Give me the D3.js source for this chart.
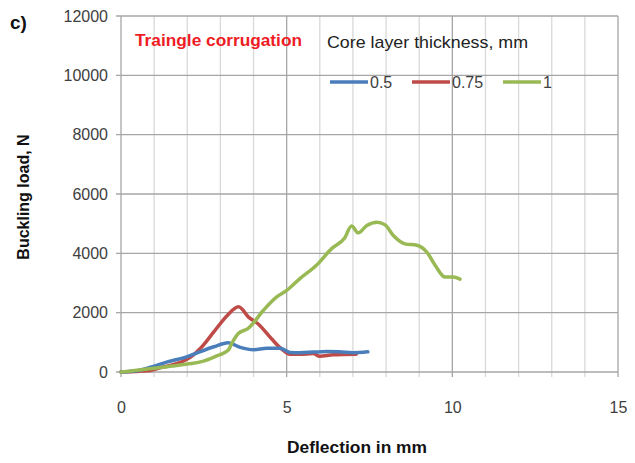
<!DOCTYPE html>
<html><head><meta charset="utf-8">
<script src="https://cdn.jsdelivr.net/npm/d3@7"></script>
<style>body{margin:0;background:#fff}svg{display:block}</style>
</head><body>
<script>
const xTicks = [0, 5, 10, 15];
const yTicks = [0, 2000, 4000, 6000, 8000, 10000, 12000];
const seriesNames = ["0.5", "0.75", "1"];
const seriesColors = ["#4a7ebb", "#be4b48", "#98b954"];

const blueX = [0, 0.6, 1.0, 1.4, 2.0, 2.4, 2.8, 3.23, 3.6, 4.0, 4.4, 4.8, 5.1, 5.4, 5.8, 6.2, 6.6, 7.0, 7.45];
const blueY = [0, 70, 200, 340, 520, 690, 850, 990, 830, 750, 800, 800, 660, 650, 670, 690, 680, 650, 680];

const redX = [0, 0.8, 1.2, 1.8, 2.1, 2.4, 2.8, 3.2, 3.55, 3.85, 4.15, 4.55, 4.85, 5.1, 5.4, 5.8, 6.0, 6.4, 7.1];
const redY = [0, 40, 150, 330, 500, 800, 1350, 1900, 2200, 1850, 1610, 1110, 770, 600, 600, 620, 530, 580, 600];

const greenX = [0, 0.8, 1.4, 2.0, 2.43, 2.84, 3.24, 3.34, 3.54, 3.84, 4.3, 4.7, 5.0, 5.4, 5.9, 6.35, 6.75, 6.96, 7.16, 7.42, 7.72, 7.97, 8.22, 8.57, 8.93, 9.23, 9.48, 9.78, 10.03, 10.23];
const greenY = [0, 100, 180, 270, 350, 520, 740, 960, 1300, 1470, 2080, 2530, 2750, 3150, 3600, 4150, 4520, 4920, 4690, 4940, 5050, 4960, 4600, 4320, 4270, 4040, 3600, 3200, 3200, 3130];

const W = 635, H = 463;
const svg = d3.select("body").append("svg").attr("width", W).attr("height", H);
const x = d3.scaleLinear().domain([0, 15]).range([121, 618]);
const y = d3.scaleLinear().domain([0, 12000]).range([372, 16]);

const g = svg.append("g");
g.selectAll(".vg").data(d3.range(0, 16)).join("line")
  .attr("x1", d => x(d)).attr("x2", d => x(d))
  .attr("y1", y(12000)).attr("y2", y(0) + 5)
  .attr("stroke", d => d % 5 === 0 ? "#a6a6a6" : "#d9d9d9").attr("stroke-width", 1.3);
g.selectAll(".hg").data(yTicks).join("line")
  .attr("x1", x(0) - 5).attr("x2", x(15))
  .attr("y1", d => y(d)).attr("y2", d => y(d))
  .attr("stroke", "#a6a6a6").attr("stroke-width", 1.3);

const font = "'Liberation Sans', Arial, sans-serif";
const xAxis = d3.axisBottom(x).tickValues(xTicks).tickFormat(d3.format("d")).tickSize(0).tickPadding(30);
const xa = svg.append("g").attr("transform", `translate(0,${y(0)})`).call(xAxis);
xa.select(".domain").remove();
xa.selectAll("text").attr("font-family", font).attr("font-size", 16).attr("fill", "#404040");

const yAxis = d3.axisLeft(y).tickValues(yTicks).tickFormat(d3.format("d")).tickSize(0).tickPadding(13);
const ya = svg.append("g").attr("transform", `translate(${x(0)},0)`).call(yAxis);
ya.select(".domain").remove();
ya.selectAll("text").attr("font-family", font).attr("font-size", 16).attr("fill", "#404040");

const line = d3.line().x(d => x(d[0])).y(d => y(d[1])).curve(d3.curveMonotoneX);
const series = [
  d3.zip(blueX, blueY),
  d3.zip(redX, redY),
  d3.zip(greenX, greenY)
];
[1, 0, 2].forEach(i => {
  svg.append("path").datum(series[i]).attr("d", line)
    .attr("fill", "none").attr("stroke", seriesColors[i]).attr("stroke-width", 3.5)
    .attr("stroke-linejoin", "round").attr("stroke-linecap", "round");
});

svg.append("text").attr("x", 10).attr("y", 29).text("c)")
  .attr("font-family", font).attr("font-size", 19).attr("font-weight", "bold").attr("fill", "#111");
svg.append("text").attr("x", 135).attr("y", 46).text("Traingle corrugation")
  .attr("font-family", font).attr("font-size", 16).attr("font-weight", "bold").attr("fill", "#ee1c25")
  .attr("textLength", 167).attr("lengthAdjust", "spacingAndGlyphs");
svg.append("text").attr("x", 327).attr("y", 48).text("Core layer thickness, mm")
  .attr("font-family", font).attr("font-size", 17).attr("fill", "#222")
  .attr("textLength", 201).attr("lengthAdjust", "spacingAndGlyphs");

const legX = [330, 412, 503];
seriesNames.forEach((n, i) => {
  svg.append("line").attr("x1", legX[i]).attr("x2", legX[i] + 38).attr("y1", 82).attr("y2", 82)
    .attr("stroke", seriesColors[i]).attr("stroke-width", 3.5);
  svg.append("text").attr("x", legX[i] + 40).attr("y", 88).text(n)
    .attr("font-family", font).attr("font-size", 16).attr("fill", "#404040");
});

svg.append("text").attr("transform", "translate(29,197) rotate(-90)").attr("text-anchor", "middle")
  .text("Buckling load, N").attr("font-family", font).attr("font-size", 16).attr("font-weight", "bold").attr("fill", "#111");
svg.append("text").attr("x", 357).attr("y", 453).attr("text-anchor", "middle")
  .text("Deflection in mm").attr("font-family", font).attr("font-size", 16).attr("font-weight", "bold").attr("fill", "#111")
  .attr("textLength", 140).attr("lengthAdjust", "spacingAndGlyphs");
</script>
</body></html>
